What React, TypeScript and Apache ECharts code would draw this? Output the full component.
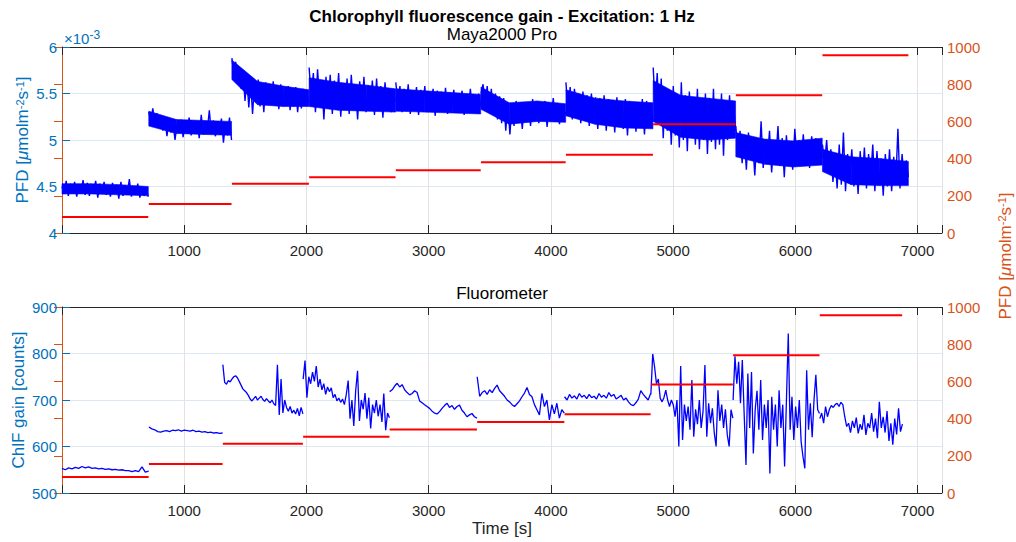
import React, { useEffect, useRef } from 'react';
import * as echarts from 'echarts';

// ---------- data ----------
const X_TICKS = [1000, 2000, 3000, 4000, 5000, 6000, 7000];
const PFD_TICKS = [0, 200, 400, 600, 800, 1000];

// Maya2000 Pro (values in units of 1e-3 umol m-2 s-1)
const mayaBounds = [[0, 706], [710, 1387], [1390, 2020], [2022, 2729], [2731, 3426], [3428, 4121], [4123, 4835], [4837, 5511], [5513, 6220], [6222, 6925]];
const mayaSeg1 = [4.50, 4.42, 4.56, 4.40, 4.53, 4.44, 4.55, 4.39, 4.52, 4.43, 4.57, 4.41, 4.54, 4.40, 4.51, 4.44, 4.56, 4.38, 4.53, 4.42, 4.55, 4.41, 4.50, 4.39, 4.54, 4.43, 4.52, 4.37, 4.55, 4.40, 4.51, 4.42, 4.58, 4.39, 4.50, 4.41, 4.53, 4.38, 4.49, 4.40, 4.47, 4.39];
const mayaSeg2 = [5.30, 5.20, 5.34, 5.18, 5.29, 5.15, 5.26, 5.10, 5.22, 5.04, 5.20, 5.08, 5.19, 5.00, 5.17, 5.09, 5.22, 5.03, 5.18, 5.10, 5.24, 5.05, 5.16, 5.08, 5.20, 5.02, 5.27, 5.06, 5.18, 5.10, 5.32, 5.07, 5.21, 5.04, 5.19, 5.09, 5.23, 4.97, 5.18, 5.05, 5.24, 5.00];
const mayaSeg3 = [5.88, 5.72, 5.84, 5.65, 5.75, 5.55, 5.70, 5.42, 5.66, 5.35, 5.62, 5.28, 5.58, 5.40, 5.65, 5.36, 5.60, 5.30, 5.62, 5.42, 5.58, 5.38, 5.63, 5.40, 5.56, 5.33, 5.60, 5.37, 5.55, 5.41, 5.58, 5.32, 5.54, 5.36, 5.57, 5.30, 5.52, 5.34, 5.55, 5.38, 5.50, 5.40];
const mayaSeg4 = [5.78, 5.45, 5.72, 5.30, 5.76, 5.40, 5.62, 5.22, 5.68, 5.35, 5.70, 5.28, 5.64, 5.38, 5.72, 5.25, 5.60, 5.34, 5.66, 5.28, 5.70, 5.36, 5.58, 5.22, 5.63, 5.33, 5.68, 5.30, 5.59, 5.37, 5.64, 5.27, 5.66, 5.32, 5.58, 5.24, 5.62, 5.35, 5.55, 5.30, 5.50, 5.42];
const mayaSeg5 = [5.62, 5.40, 5.58, 5.30, 5.55, 5.36, 5.60, 5.28, 5.52, 5.38, 5.57, 5.27, 5.54, 5.33, 5.58, 5.30, 5.50, 5.36, 5.55, 5.26, 5.53, 5.35, 5.52, 5.30, 5.56, 5.28, 5.51, 5.34, 5.54, 5.29, 5.50, 5.37, 5.53, 5.27, 5.49, 5.33, 5.55, 5.30, 5.47, 5.32, 5.50, 5.36];
const mayaSeg6 = [5.50, 5.60, 5.38, 5.58, 5.32, 5.55, 5.28, 5.50, 5.22, 5.47, 5.18, 5.45, 5.10, 5.40, 5.06, 5.38, 5.15, 5.42, 5.20, 5.36, 5.12, 5.40, 5.22, 5.38, 5.15, 5.44, 5.24, 5.40, 5.18, 5.37, 5.21, 5.42, 5.14, 5.38, 5.26, 5.45, 5.20, 5.40, 5.17, 5.35, 5.23, 5.30];
const mayaSeg7 = [5.62, 5.30, 5.57, 5.22, 5.55, 5.35, 5.50, 5.18, 5.52, 5.28, 5.48, 5.15, 5.50, 5.25, 5.46, 5.12, 5.45, 5.22, 5.48, 5.10, 5.44, 5.20, 5.42, 5.08, 5.46, 5.18, 5.40, 5.12, 5.44, 5.05, 5.42, 5.16, 5.38, 5.09, 5.40, 5.14, 5.44, 5.06, 5.42, 5.18, 5.40, 5.20];
const mayaSeg8 = [5.78, 5.35, 5.72, 5.20, 5.66, 5.02, 5.55, 5.10, 5.50, 4.95, 5.58, 5.05, 5.45, 4.92, 5.62, 5.00, 5.48, 4.88, 5.52, 5.05, 5.45, 4.95, 5.55, 4.90, 5.42, 5.00, 5.50, 4.85, 5.45, 4.98, 5.55, 4.90, 5.40, 4.95, 5.50, 4.83, 5.42, 5.00, 5.48, 5.05, 5.40, 5.10];
const mayaSeg9 = [5.15, 4.85, 5.10, 4.75, 5.05, 4.68, 5.08, 4.80, 4.98, 4.62, 5.02, 4.75, 5.20, 4.70, 5.00, 4.80, 5.10, 4.65, 4.98, 4.78, 5.15, 4.72, 5.02, 4.60, 5.05, 4.76, 4.96, 4.68, 5.12, 4.80, 5.00, 4.72, 5.06, 4.78, 4.98, 4.70, 5.04, 4.82, 5.02, 4.75, 5.00, 4.80];
const mayaSeg10 = [4.95, 4.75, 5.00, 4.65, 4.90, 4.55, 4.82, 4.48, 4.95, 4.52, 5.08, 4.45, 4.85, 4.60, 4.90, 4.50, 4.80, 4.42, 4.88, 4.55, 4.92, 4.48, 4.85, 4.58, 4.95, 4.45, 4.88, 4.52, 4.80, 4.40, 4.85, 4.50, 4.90, 4.45, 4.82, 4.55, 5.12, 4.48, 4.85, 4.55, 4.78, 4.60];
const mayaValues = [mayaSeg1, mayaSeg2, mayaSeg3, mayaSeg4, mayaSeg5, mayaSeg6, mayaSeg7, mayaSeg8, mayaSeg9, mayaSeg10];
// dense core of the noise band (lower / upper edge, 4 readings per segment)
const mayaCoreLo = [[4.42, 4.42, 4.41, 4.40], [5.15, 5.07, 5.06, 5.05], [5.65, 5.38, 5.36, 5.36], [5.36, 5.32, 5.31, 5.30], [5.31, 5.30, 5.29, 5.28], [5.33, 5.17, 5.20, 5.19], [5.26, 5.17, 5.13, 5.12], [5.20, 5.03, 5.00, 5.02], [4.82, 4.74, 4.71, 4.73], [4.66, 4.52, 4.51, 4.51]];
const mayaCoreHi = [[4.53, 4.53, 4.52, 4.50], [5.31, 5.22, 5.21, 5.20], [5.86, 5.63, 5.58, 5.54], [5.67, 5.62, 5.59, 5.55], [5.55, 5.53, 5.51, 5.49], [5.57, 5.40, 5.42, 5.39], [5.54, 5.45, 5.42, 5.40], [5.64, 5.48, 5.45, 5.42], [5.08, 5.01, 4.99, 5.02], [4.90, 4.82, 4.80, 4.77]];
const mayaPfdBounds = [[0, 706], [710, 1387], [1390, 2020], [2022, 2729], [2731, 3426], [3428, 4121], [4123, 4835], [4837, 5511], [5513, 6220], [6222, 6925]];
const mayaPfd = [86, 156, 265, 300, 337, 380, 421, 585, 740, 955];

// Fluorometer (ChlF gain counts)
const fluoBounds = [[0, 709], [711, 1314], [1316, 1971], [1973, 2679], [2681, 3395], [3397, 4110], [4112, 4816], [4818, 5489], [5491, 6198], [6200, 6876]];
const fluoSeg1 = [553, 550, 554, 552, 555, 553, 557, 554, 556, 553, 554, 552, 553, 551, 552, 550, 551, 549, 550, 548, 548, 546, 548, 546, 556, 545, 547];
const fluoSeg2 = [642, 638, 636, 632, 631, 633, 634, 632, 635, 634, 636, 633, 635, 634, 633, 635, 632, 633, 631, 632, 630, 631, 629, 630, 628, 629];
const fluoSeg3 = [776, 738, 734, 742, 739, 745, 750, 752, 748, 740, 732, 724, 720, 716, 710, 702, 698, 703, 708, 700, 704, 708, 701, 697, 703, 698, 694, 700, 692, 688, 776, 668, 745, 672, 700, 684, 676, 686, 672, 678, 670, 682, 666, 684, 670];
const fluoSeg4 = [745, 785, 705, 750, 735, 760, 740, 773, 728, 745, 722, 735, 712, 728, 718, 726, 705, 712, 698, 704, 695, 702, 690, 712, 742, 660, 700, 644, 720, 763, 655, 700, 680, 715, 660, 705, 639, 690, 672, 700, 665, 690, 653, 714, 635, 672, 662];
const fluoSeg5 = [718, 722, 730, 736, 728, 733, 722, 716, 711, 714, 720, 716, 698, 694, 690, 686, 682, 676, 672, 670, 675, 682, 688, 693, 684, 688, 680, 686, 689, 678, 672, 664, 668, 671, 664, 661];
const fluoSeg6 = [750, 708, 716, 720, 712, 722, 716, 725, 732, 720, 714, 708, 700, 696, 690, 686, 692, 698, 707, 715, 727, 712, 707, 690, 679, 668, 714, 686, 700, 657, 690, 670, 693, 661, 679, 672];
const fluoSeg7 = [707, 700, 712, 704, 709, 702, 714, 706, 710, 703, 712, 705, 708, 702, 714, 706, 710, 704, 716, 708, 712, 702, 706, 710, 700, 704, 696, 690, 688, 694, 702, 720, 712, 706, 700, 714];
const fluoSeg8 = [712, 799, 771, 735, 745, 704, 696, 705, 721, 700, 686, 700, 690, 664, 700, 600, 773, 614, 690, 655, 686, 636, 743, 621, 680, 648, 700, 640, 676, 775, 621, 693, 650, 682, 630, 600, 721, 655, 690, 640, 680, 625, 600, 679, 661];
const fluoSeg9 = [700, 794, 735, 782, 693, 786, 671, 560, 757, 640, 760, 585, 679, 720, 636, 743, 614, 690, 640, 700, 542, 707, 636, 690, 600, 721, 640, 690, 557, 700, 843, 636, 707, 614, 686, 640, 700, 610, 578, 553, 764, 636, 693, 620, 700, 754, 679, 671];
const fluoSeg10 = [660, 672, 650, 686, 664, 680, 688, 684, 690, 693, 686, 695, 690, 664, 643, 650, 630, 655, 640, 662, 628, 648, 636, 668, 625, 650, 640, 672, 632, 660, 618, 696, 640, 664, 630, 676, 612, 650, 604, 660, 626, 682, 632, 648];
const fluoValues = [fluoSeg1, fluoSeg2, fluoSeg3, fluoSeg4, fluoSeg5, fluoSeg6, fluoSeg7, fluoSeg8, fluoSeg9, fluoSeg10];
const fluoPfdBounds = [[0, 709], [711, 1314], [1316, 1971], [1973, 2679], [2681, 3395], [3397, 4110], [4112, 4816], [4818, 5489], [5491, 6198], [6200, 6874]];
const fluoPfd = [86, 156, 265, 303, 341, 382, 423, 584, 740, 956];

// ---------- helpers ----------
function buildSignal(bounds: number[][], values: number[][]) {
  const out: any[] = [];
  bounds.forEach(([a, b], k) => {
    const v = values[k];
    const n = v.length;
    v.forEach((y, i) => out.push([a + ((b - a) * i) / (n - 1), y]));
    out.push([b + 1, null]);
  });
  return out;
}
// each item: one quad of the band core between two successive readings
function buildBand(bounds: number[][], lo: number[][], hi: number[][]) {
  const out: number[][] = [];
  bounds.forEach(([a, b], k) => {
    const n = lo[k].length;
    for (let i = 0; i < n - 1; i++) {
      const t0 = a + ((b - a) * i) / (n - 1);
      const t1 = a + ((b - a) * (i + 1)) / (n - 1);
      out.push([t0, lo[k][i], hi[k][i], t1, lo[k][i + 1], hi[k][i + 1]]);
    }
  });
  return out;
}
function buildSteps(bounds: number[][], levels: number[]) {
  const out: any[] = [];
  bounds.forEach(([a, b], k) => {
    out.push([a, levels[k]]);
    out.push([b, levels[k]]);
    out.push([b + 1, null]);
  });
  return out;
}

const FONT = 'Liberation Sans, Arial, Helvetica, sans-serif';
const BLUE_AX = '#0072BD';
const ORANGE_AX = '#D95319';
const DARK = '#262626';

const pfdRich = (color: string) => ({
  a: { fontSize: 17, color, fontFamily: FONT },
  i: { fontSize: 17, color, fontStyle: 'italic', fontFamily: FONT },
  s: { fontSize: 11, color, verticalAlign: 'top', fontFamily: FONT },
});
const PFD_NAME = '{a|PFD [}{i|μ}{a|molm}{s|-2}{a|s}{s|-1}{a|]}';

function xAxes(grid: number) {
  return [
    {
      gridIndex: grid, type: 'value', min: 0, max: 7200, interval: 1000, position: 'bottom',
      axisLine: { show: true, onZero: false, lineStyle: { color: DARK, width: 1 } },
      axisTick: { show: true, inside: true, length: 8, lineStyle: { color: DARK } },
      axisLabel: {
        color: DARK, fontSize: 15, fontFamily: FONT, margin: 10,
        formatter: (v: number) => (X_TICKS.indexOf(v) >= 0 ? String(v) : ''),
      },
      splitLine: { show: true, lineStyle: { color: '#e2e2e2', width: 1 } },
    },
    {
      gridIndex: grid, type: 'value', min: 0, max: 7200, interval: 1000, position: 'top',
      axisLine: { show: true, onZero: false, lineStyle: { color: DARK, width: 1 } },
      axisTick: { show: true, inside: true, length: 8, lineStyle: { color: DARK } },
      axisLabel: { show: false },
      splitLine: { show: false },
    },
  ];
}

function rightAxis(grid: number) {
  return {
    gridIndex: grid, type: 'value', min: 0, max: 1000, interval: 200, position: 'right',
    axisLine: { show: true, lineStyle: { color: ORANGE_AX, width: 1 } },
    axisTick: { show: true, inside: true, length: 8, lineStyle: { color: ORANGE_AX } },
    axisLabel: {
      color: ORANGE_AX, fontSize: 15, fontFamily: FONT, margin: 5,
      formatter: (v: number) => (PFD_TICKS.indexOf(v) >= 0 ? String(v) : ''),
    },
    splitLine: { show: false },
  };
}

export default function App() {
  const ref = useRef<HTMLDivElement>(null);
  useEffect(() => {
    if (!ref.current) return;
    const chart = echarts.init(ref.current, null, { renderer: 'svg' });
    const option: any = {
      animation: false,
      backgroundColor: '#ffffff',
      textStyle: { fontFamily: FONT },
      grid: [
        { left: 62, top: 47, width: 880, height: 186 },
        { left: 62, top: 307, width: 880, height: 186 },
      ],
      xAxis: [...xAxes(0), ...xAxes(1)],
      yAxis: [
        {
          gridIndex: 0, type: 'value', min: 4, max: 6, interval: 0.5, position: 'left',
          axisLine: { show: true, lineStyle: { color: BLUE_AX, width: 1 } },
          axisTick: { show: true, inside: true, length: 8, lineStyle: { color: BLUE_AX } },
          axisLabel: { color: BLUE_AX, fontSize: 15, fontFamily: FONT, margin: 5 },
          splitLine: { show: true, lineStyle: { color: '#dde8f2', width: 1 } },
          name: PFD_NAME, nameLocation: 'middle', nameGap: 31, nameRotate: 90, nameMoveOverlap: false,
          nameTextStyle: { color: BLUE_AX, fontSize: 17, rich: pfdRich(BLUE_AX) },
        },
        rightAxis(0),
        {
          gridIndex: 1, type: 'value', min: 500, max: 900, interval: 100, position: 'left',
          axisLine: { show: true, lineStyle: { color: BLUE_AX, width: 1 } },
          axisTick: { show: true, inside: true, length: 8, lineStyle: { color: BLUE_AX } },
          axisLabel: { color: BLUE_AX, fontSize: 15, fontFamily: FONT, margin: 5 },
          splitLine: { show: true, lineStyle: { color: '#dde8f2', width: 1 } },
          name: 'ChlF gain [counts]', nameLocation: 'middle', nameGap: 35, nameRotate: 90, nameMoveOverlap: false,
          nameTextStyle: { color: BLUE_AX, fontSize: 17, fontFamily: FONT },
        },
        rightAxis(1),
      ],
      series: [
        {
          type: 'custom', xAxisIndex: 0, yAxisIndex: 0, silent: true,
          data: buildBand(mayaBounds, mayaCoreLo, mayaCoreHi),
          encode: { x: [0, 3], y: [1, 2, 4, 5] },
          renderItem: (_params: any, api: any) => {
            const p0 = api.coord([api.value(0), api.value(1)]);
            const p1 = api.coord([api.value(3), api.value(4)]);
            const p2 = api.coord([api.value(3), api.value(5)]);
            const p3 = api.coord([api.value(0), api.value(2)]);
            return {
              type: 'polygon',
              shape: { points: [p0, p1, p2, p3] },
              style: { fill: '#0000ff', stroke: '#0000ff', lineWidth: 0.6 },
            };
          },
        },
        {
          type: 'line', xAxisIndex: 0, yAxisIndex: 0, data: buildSignal(mayaBounds, mayaValues),
          showSymbol: false, connectNulls: false, lineStyle: { color: '#0000ff', width: 1.4 }, itemStyle: { color: '#0000ff' },
        },
        {
          type: 'line', xAxisIndex: 0, yAxisIndex: 1, data: buildSteps(mayaPfdBounds, mayaPfd),
          showSymbol: false, connectNulls: false, lineStyle: { color: '#ff0000', width: 2 }, itemStyle: { color: '#ff0000' },
        },
        {
          type: 'line', xAxisIndex: 2, yAxisIndex: 2, data: buildSignal(fluoBounds, fluoValues),
          showSymbol: false, connectNulls: false, lineStyle: { color: '#0000ff', width: 1.3 }, itemStyle: { color: '#0000ff' },
        },
        {
          type: 'line', xAxisIndex: 2, yAxisIndex: 3, data: buildSteps(fluoPfdBounds, fluoPfd),
          showSymbol: false, connectNulls: false, lineStyle: { color: '#ff0000', width: 2 }, itemStyle: { color: '#ff0000' },
        },
      ],
      graphic: [
        {
          type: 'text', x: 502, y: 16,
          style: {
            text: 'Chlorophyll fluorescence gain - Excitation: 1 Hz', fill: '#000',
            font: 'bold 17px ' + FONT, align: 'center', verticalAlign: 'middle',
            textAlign: 'center', textVerticalAlign: 'middle',
          },
        },
        {
          type: 'text', x: 502, y: 34,
          style: {
            text: 'Maya2000 Pro', fill: '#000', font: '17px ' + FONT,
            align: 'center', verticalAlign: 'middle', textAlign: 'center', textVerticalAlign: 'middle',
          },
        },
        {
          type: 'text', x: 502, y: 293,
          style: {
            text: 'Fluorometer', fill: '#000', font: '17px ' + FONT,
            align: 'center', verticalAlign: 'middle', textAlign: 'center', textVerticalAlign: 'middle',
          },
        },
        {
          type: 'text', x: 502, y: 528,
          style: {
            text: 'Time [s]', fill: DARK, font: '17px ' + FONT,
            align: 'center', verticalAlign: 'middle', textAlign: 'center', textVerticalAlign: 'middle',
          },
        },
        {
          type: 'text', x: 64, y: 38,
          style: {
            text: '{a|×10}{s|-3}', fill: BLUE_AX, font: '15px ' + FONT, fontSize: 15,
            align: 'left', verticalAlign: 'middle', textAlign: 'left', textVerticalAlign: 'middle',
            rich: {
              a: { fontSize: 15, fill: BLUE_AX, color: BLUE_AX, fontFamily: FONT, lineHeight: 18 },
              s: { fontSize: 12, fill: BLUE_AX, color: BLUE_AX, verticalAlign: 'top', fontFamily: FONT, lineHeight: 12 },
            },
          },
        },
        {
          type: 'text', x: 1005, y: 256, rotation: Math.PI / 2,
          style: {
            text: PFD_NAME, fill: ORANGE_AX, font: '17px ' + FONT, fontSize: 17,
            align: 'center', verticalAlign: 'middle', textAlign: 'center', textVerticalAlign: 'middle',
            rich: {
              a: { fontSize: 17, fill: ORANGE_AX, color: ORANGE_AX, fontFamily: FONT },
              i: { fontSize: 17, fill: ORANGE_AX, color: ORANGE_AX, fontStyle: 'italic', fontFamily: FONT },
              s: { fontSize: 11, fill: ORANGE_AX, color: ORANGE_AX, verticalAlign: 'top', fontFamily: FONT },
            },
          },
        },
      ],
    };
    chart.setOption(option);
    return () => chart.dispose();
  }, []);
  return (
    <div
      ref={ref}
      style={{ position: 'absolute', left: 0, top: 0, width: 1016, height: 542, background: '#fff' }}
    />
  );
}
